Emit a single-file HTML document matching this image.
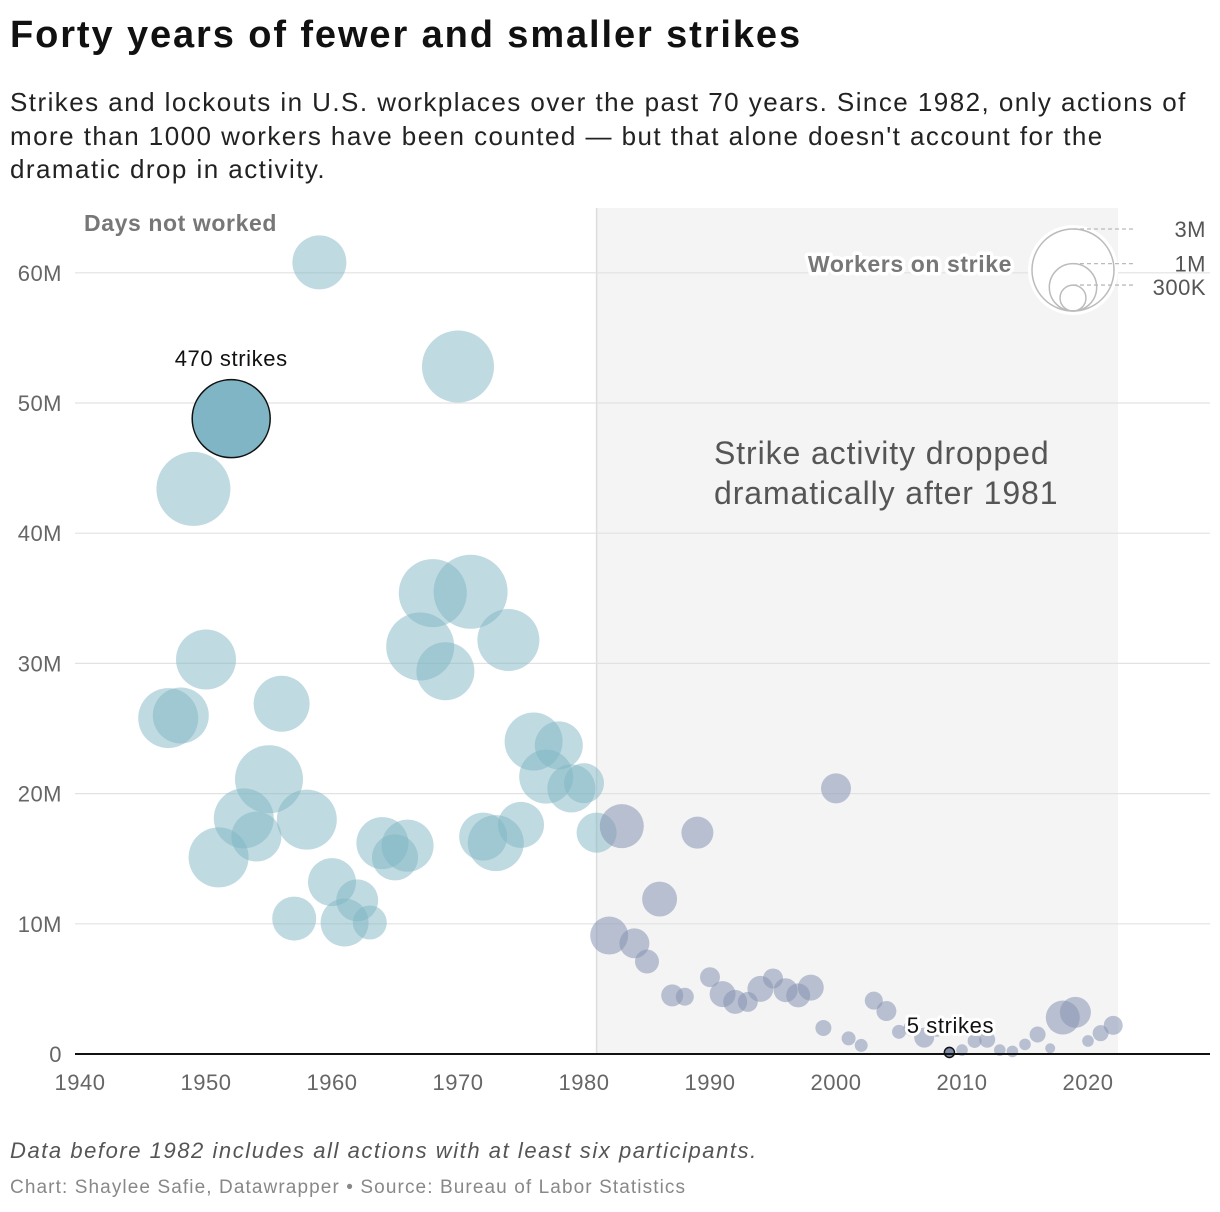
<!DOCTYPE html>
<html><head><meta charset="utf-8">
<style>
body{margin:0;background:#fff;font-family:"Liberation Sans",sans-serif;}
#wrap{position:relative;width:1220px;height:1212px;overflow:hidden}
.t{position:absolute;left:10px;margin:0;white-space:nowrap}
</style></head>
<body>
<div id="wrap">
<h1 class="t" style="top:14px;font-size:38px;font-weight:bold;color:#111;letter-spacing:1.9px">Forty years of fewer and smaller strikes</h1>
<p class="t" style="top:86px;font-size:26px;line-height:33.5px;color:#222;letter-spacing:1.45px">Strikes and lockouts in U.S. workplaces over the past 70 years. Since 1982, only actions of<br>more than 1000 workers have been counted — but that alone doesn't account for the<br>dramatic drop in activity.</p>
<svg id="chart" width="1220" height="1212" style="position:absolute;left:0;top:0" xmlns="http://www.w3.org/2000/svg"></svg>
<p class="t" style="top:1138px;font-size:22px;font-style:italic;color:#555;letter-spacing:1.55px">Data before 1982 includes all actions with at least six participants.</p>
<p class="t" style="top:1177px;font-size:19px;color:#888;letter-spacing:1.1px">Chart: Shaylee Safie, Datawrapper • Source: Bureau of Labor Statistics</p>
</div>
<script>
const years = [1947,1948,1949,1950,1951,1952,1953,1954,1955,1956,1957,1958,1959,1960,1961,1962,1963,1964,1965,1966,1967,1968,1969,1970,1971,1972,1973,1974,1975,1976,1977,1978,1979,1980,1981,
1982,1983,1984,1985,1986,1987,1988,1989,1990,1991,1992,1993,1994,1995,1996,1997,1998,1999,2000,2001,2002,2003,2004,2005,2006,2007,2008,2009,2010,2011,2012,2013,2014,2015,2016,2017,2018,2019,2020,2021,2022];
const daysM = [25.8,26.0,43.4,30.3,15.1,48.8,18.1,16.7,21.1,26.9,10.4,18.0,60.8,13.2,10.1,11.8,10.1,16.2,15.1,16.0,31.3,35.4,29.4,52.8,35.5,16.7,16.2,31.8,17.6,24.0,21.3,23.7,20.4,20.8,17.0,
9.1,17.5,8.5,7.1,11.9,4.5,4.4,17.0,5.9,4.6,4.0,4.0,5.0,5.8,4.9,4.5,5.1,2.0,20.4,1.2,0.66,4.1,3.3,1.7,2.0,1.26,1.95,0.12,0.3,1.0,1.1,0.3,0.2,0.74,1.5,0.44,2.8,3.2,1.0,1.6,2.2];
const workersK = [1606,1399,2443,1606,1606,2714,1606,1115,2063,1399,864,1606,1301,1028,1028,787,516,1206,944,1206,2063,2063,1501,2313,2443,1028,1399,1715,944,1501,1301,1028,1028,714,714,
644,864,400,257,546,216,145,457,178,300,257,178,300,178,257,257,300,114,401,87,75,145,178,87,114,178,120,45,60,87,114,60,60,60,114,45,516,429,60,114,161];
const xTicks = [1940,1950,1960,1970,1980,1990,2000,2010,2020];
const yTicks = [0,10,20,30,40,50,60];
const yTickLabels = ["0","10M","20M","30M","40M","50M","60M"];
const legendK = [3000,1000,300];
const legendLabels = ["3M","1M","300K"];

const NS="http://www.w3.org/2000/svg", svg=document.getElementById('chart');
const X=y=>80+(y-1940)*12.6, Y=v=>1054-v*13.02, R=w=>41*Math.sqrt(w/3000);
function el(t,a,p){const e=document.createElementNS(NS,t);for(const k in a)e.setAttribute(k,a[k]);(p||svg).appendChild(e);return e;}
function txt(s,a){const e=el('text',a);e.textContent=s;return e;}

const shade=el('rect',{x:X(1981),y:208,width:1118-X(1981),height:1054-208,fill:'#f4f4f4'});


const vl=el('line',{x1:X(1981),x2:X(1981),y1:208,y2:1054,stroke:'#ddd','stroke-width':1.5});



yTicks.forEach((v,i)=>{
  if(v>0){const g=el('line',{x1:75,x2:1210,y1:Y(v),y2:Y(v),stroke:'#e2e2e2','stroke-width':1.2});
  
  }
  const t=txt(yTickLabels[i],{x:62,y:Y(v)+8,'text-anchor':'end','font-size':22,fill:'#666','letter-spacing':0.5});
  
  
});
xTicks.forEach(v=>{
  const t=txt(String(v),{x:X(v),y:1090,'text-anchor':'middle','font-size':22,fill:'#666','letter-spacing':0.5});
  
  
});
const yt=txt('Days not worked',{x:84,y:231,'font-size':23,'font-weight':'bold',fill:'#777','letter-spacing':0.6});



const ann=txt('',{x:714,y:464,'font-size':32,fill:'#555','letter-spacing':0.9});


['Strike activity dropped','dramatically after 1981'].forEach((s,i)=>{const ts=el('tspan',{x:714,dy:i?40:0},ann);ts.textContent=s;});

years.forEach((yr,i)=>{
  const pre=yr<1982, hl=(yr===1952||yr===2009);
  const c=el('circle',{cx:X(yr),cy:Y(daysM[i]),r:R(workersK[i]),
    fill:pre?'#7fb5c4':'#8793b2','fill-opacity':hl?1:(pre?0.5:0.55),
    stroke:hl?'#111':'none','stroke-width':hl?1.5:0});
  if(hl&&!pre)c.setAttribute('fill','#7d8aab');
  
  
});
const axis=el('line',{x1:75,x2:1210,y1:1054,y2:1054,stroke:'#111','stroke-width':2});



const a1=txt('470 strikes',{x:X(1952),y:366,'text-anchor':'middle','font-size':22,fill:'#111','letter-spacing':0.6});


const a2=txt('5 strikes',{x:X(2009)+1,y:1033,'text-anchor':'middle','font-size':22,fill:'#111',stroke:'#fff','stroke-width':6,'paint-order':'stroke','stroke-linejoin':'round','letter-spacing':0.6});



const lx=1073, lb=311;
const lt=txt('Workers on strike',{x:1012,y:272,'text-anchor':'end','font-size':23,'font-weight':'bold',fill:'#777',stroke:'#fff','stroke-width':7,'paint-order':'stroke','stroke-linejoin':'round','letter-spacing':0.6});


el('circle',{cx:lx,cy:lb-R(3000),r:R(3000)+4,fill:'#fff'});
legendK.forEach((k,i)=>{
  const r=R(k);
  const c=el('circle',{cx:lx,cy:lb-r,r:r,fill:'none',stroke:'#bbb','stroke-width':1.5});
  
  
  el('line',{x1:lx,x2:1135,y1:lb-2*r,y2:lb-2*r,stroke:'#bbb','stroke-width':1.3,'stroke-dasharray':'4,3'});
  const t=txt(legendLabels[i],{x:1206,y:lb-2*r+(i===2?10:8),'text-anchor':'end','font-size':22,fill:'#555','letter-spacing':0.5});
  
  
});
</script>
</body></html>
